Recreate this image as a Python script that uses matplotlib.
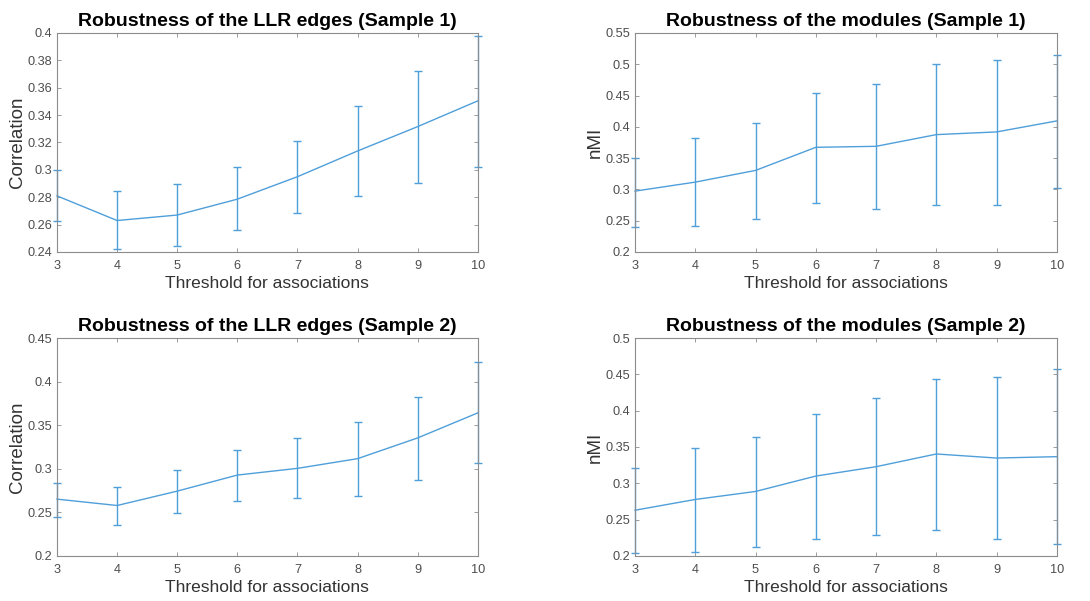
import numpy as np
import matplotlib
matplotlib.use("Agg")
import matplotlib.pyplot as plt

LINE = "#4f9fda"
AX = "#4d4d4d"

plt.rcParams.update(
    {
        "font.family": ["Liberation Sans", "DejaVu Sans"],
        "axes.edgecolor": "#8c8c8c",
        "axes.linewidth": 0.8,
        "xtick.color": AX,
        "ytick.color": AX,
        "xtick.direction": "in",
        "ytick.direction": "in",
        "xtick.top": True,
        "ytick.right": True,
        "xtick.labelsize": 9.2,
        "ytick.labelsize": 9.2,
    }
)

thresholds = [3, 4, 5, 6, 7, 8, 9, 10]

# LLR edges, sample 1
llr1_mean = [0.281, 0.263, 0.267, 0.2786, 0.295, 0.3138, 0.3316, 0.3504]
llr1_low = [0.263, 0.2424, 0.2444, 0.2564, 0.2686, 0.281, 0.2906, 0.3023]
llr1_high = [0.300, 0.2845, 0.290, 0.302, 0.3213, 0.3463, 0.3719, 0.398]

# modules, sample 1
mod1_mean = [0.2973, 0.3117, 0.3304, 0.3673, 0.3689, 0.3876, 0.3919, 0.4095]
mod1_low = [0.240, 0.2417, 0.2529, 0.2791, 0.2684, 0.2748, 0.2759, 0.3026]
mod1_high = [0.3507, 0.3823, 0.4068, 0.4544, 0.4688, 0.5004, 0.5063, 0.5153]

# LLR edges, sample 2
llr2_mean = [0.2652, 0.2579, 0.2744, 0.2928, 0.3005, 0.3116, 0.3354, 0.3641]
llr2_low = [0.2452, 0.2357, 0.2491, 0.2633, 0.2663, 0.2686, 0.287, 0.307]
llr2_high = [0.284, 0.2794, 0.2985, 0.3215, 0.335, 0.3538, 0.3829, 0.422]

# modules, sample 2
mod2_mean = [0.263, 0.2778, 0.2888, 0.310, 0.3229, 0.3404, 0.3348, 0.3367]
mod2_low = [0.2037, 0.206, 0.2129, 0.2235, 0.2285, 0.2359, 0.2235, 0.2161]
mod2_high = [0.3206, 0.3491, 0.3643, 0.3951, 0.4177, 0.4434, 0.4467, 0.4568]

panels = [
    ("Robustness of the LLR edges (Sample 1)", "Correlation", llr1_mean, llr1_low, llr1_high,
     (0.24, 0.40), np.arange(0.24, 0.401, 0.02), [0.0523, 0.5807, 0.386, 0.3644]),
    ("Robustness of the modules (Sample 1)", "nMI", mod1_mean, mod1_low, mod1_high,
     (0.20, 0.55), np.arange(0.20, 0.551, 0.05), [0.5826, 0.5807, 0.387, 0.3644]),
    ("Robustness of the LLR edges (Sample 2)", "Correlation", llr2_mean, llr2_low, llr2_high,
     (0.20, 0.45), np.arange(0.20, 0.451, 0.05), [0.0523, 0.0749, 0.386, 0.3627]),
    ("Robustness of the modules (Sample 2)", "nMI", mod2_mean, mod2_low, mod2_high,
     (0.20, 0.50), np.arange(0.20, 0.501, 0.05), [0.5826, 0.0749, 0.387, 0.3627]),
]


def fmt(v):
    return f"{v:.2f}".rstrip("0").rstrip(".")


fig = plt.figure(figsize=(10.9, 6.01), dpi=100)
for title, ylabel, mean, low, high, ylim, yticks, pos in panels:
    ax = fig.add_axes(pos)
    mean = np.array(mean)
    yerr = [mean - np.array(low), np.array(high) - mean]
    ax.errorbar(thresholds, mean, yerr=yerr, color=LINE, lw=1.0, elinewidth=1.0,
                capsize=3, capthick=1.0, clip_on=False)
    ax.set_xlim(3, 10)
    ax.set_ylim(*ylim)
    ax.set_xticks(thresholds)
    ax.set_yticks(yticks)
    ax.set_yticklabels([fmt(v) for v in yticks])
    ax.tick_params(length=3, width=0.6, colors="#8c8c8c", labelcolor=AX)
    ax.tick_params(axis="x", pad=6)
    ax.set_title(title, fontsize=14, fontweight="bold", pad=5)
    ax.set_xlabel("Threshold for associations", fontsize=12.5, color="#333333", labelpad=3)
    ax.set_ylabel(ylabel, fontsize=13.5, color="#333333", labelpad=1)

fig.savefig("out.png", dpi=100)
